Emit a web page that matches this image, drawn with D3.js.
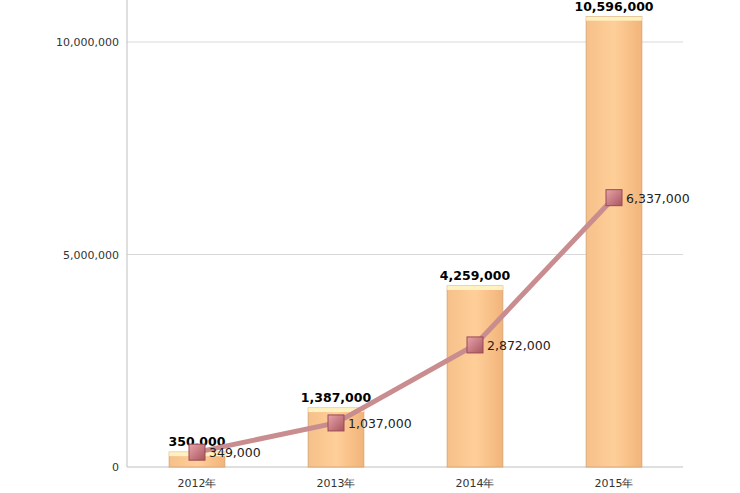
<!DOCTYPE html>
<html><head><meta charset="utf-8">
<script src="https://cdn.jsdelivr.net/npm/d3@7"></script>
<style>body{margin:0;background:#fff}</style>
</head><body><div id="chart"></div>
<script>
const years = ["2012年", "2013年", "2014年", "2015年"];
const barValues = [350000, 1387000, 4259000, 10596000];
const lineValues = [349000, 1037000, 2872000, 6337000];
const yTicks = [0, 5000000, 10000000];

const width = 740, height = 493;
const margin = {left: 127, right: 57, top: 0, bottom: 26};

const svg = d3.select("#chart").append("svg")
    .attr("width", width).attr("height", height)
    .style("font-family", "'DejaVu Sans', Verdana, sans-serif");

const defs = svg.append("defs");
const grad = defs.append("linearGradient").attr("id", "barg");
grad.append("stop").attr("offset", "0").attr("stop-color", "#f6c08a");
grad.append("stop").attr("offset", "0.5").attr("stop-color", "#ffcf99");
grad.append("stop").attr("offset", "1").attr("stop-color", "#f2b47a");
const mg = defs.append("linearGradient").attr("id", "mkg").attr("x1", 0).attr("y1", 0).attr("x2", 1).attr("y2", 1);
mg.append("stop").attr("offset", "0").attr("stop-color", "#e8a4aa");
mg.append("stop").attr("offset", "1").attr("stop-color", "#a9555e");

const x = d3.scaleBand().domain(years).range([127.5, 683.5])
    .paddingInner(0.6).paddingOuter(0.3);
const y = d3.scaleLinear().domain([0, 11000000]).range([467, -0.5]);

svg.append("g").selectAll("line").data(yTicks.slice(1)).join("line")
    .attr("x1", margin.left).attr("x2", width - margin.right)
    .attr("y1", d => y(d)).attr("y2", d => y(d))
    .attr("stroke", "#d9d9d9");

svg.append("line").attr("x1", margin.left).attr("x2", margin.left)
    .attr("y1", 0).attr("y2", y(0)).attr("stroke", "#bfbfbf");
svg.append("line").attr("x1", margin.left).attr("x2", width - margin.right)
    .attr("y1", y(0)).attr("y2", y(0)).attr("stroke", "#bfbfbf");

svg.append("g").selectAll("text").data(yTicks).join("text")
    .attr("x", margin.left - 8).attr("y", d => y(d) + 4)
    .attr("text-anchor", "end").attr("font-size", 11).attr("fill", "#333")
    .text(d => d3.format(",")(d));

svg.append("g").selectAll("text").data(years).join("text")
    .attr("x", d => x(d) + x.bandwidth() / 2).attr("y", 487)
    .attr("text-anchor", "middle").attr("font-size", 11).attr("fill", "#333")
    .text(d => d);

const bars = svg.append("g").selectAll("g").data(years).join("g");
bars.append("rect")
    .attr("x", d => x(d)).attr("width", x.bandwidth())
    .attr("y", (d, i) => y(barValues[i])).attr("height", (d, i) => y(0) - y(barValues[i]))
    .attr("fill", "url(#barg)").attr("stroke", "#d9a877").attr("stroke-width", 1);
bars.append("rect")
    .attr("x", d => x(d)).attr("width", x.bandwidth())
    .attr("y", (d, i) => y(barValues[i])).attr("height", 4)
    .attr("fill", "#fff2c2");
bars.append("text")
    .attr("x", d => x(d) + x.bandwidth() / 2).attr("y", (d, i) => y(barValues[i]) - 6)
    .attr("text-anchor", "middle").attr("font-size", 12.5).attr("font-weight", "bold")
    .text((d, i) => d3.format(",")(barValues[i]));

const cx = d => x(d) + x.bandwidth() / 2;
svg.append("path").datum(years)
    .attr("d", d3.line().x(cx).y((d, i) => y(lineValues[i])))
    .attr("fill", "none").attr("stroke", "#c98d8f").attr("stroke-width", 5);

const pts = svg.append("g").selectAll("g").data(years).join("g");
pts.append("rect")
    .attr("x", d => cx(d) - 8).attr("y", (d, i) => y(lineValues[i]) - 8)
    .attr("width", 16).attr("height", 16)
    .attr("fill", "url(#mkg)").attr("stroke", "#9a4a52");
pts.append("text")
    .attr("x", d => cx(d) + 12).attr("y", (d, i) => y(lineValues[i]) + 5)
    .attr("font-size", 12.5).attr("fill", "#222")
    .text((d, i) => d3.format(",")(lineValues[i]));
</script></body></html>
